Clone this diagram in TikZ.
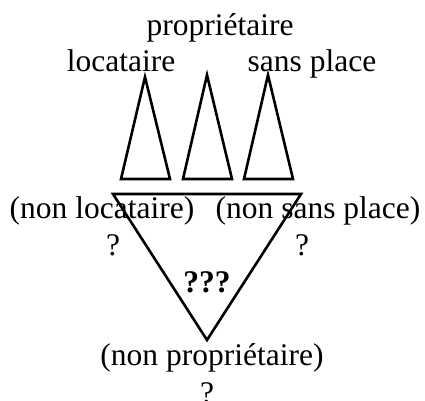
\documentclass[tikz,border=0pt]{standalone}
\usepackage{fontspec}
\setmainfont{Liberation Serif}
\begin{document}
\begin{tikzpicture}[x=1pt,y=-1pt,
  lbl/.style={anchor=base,inner sep=0pt,font=\fontsize{31.5}{36}\selectfont},
  tri/.style={draw,line width=2.6pt,line join=miter}]
\useasboundingbox (0,0) rectangle (425,400);
% small triangles
\draw[tri] (145,77) -- (170,179) -- (121,179) -- cycle;
\draw[tri] (207,75) -- (232,179) -- (183,179) -- cycle;
\draw[tri] (268,75) -- (293,179) -- (244,179) -- cycle;
% big triangle
\draw[tri] (113,194) -- (301,194) -- (207,340) -- cycle;
% labels
\node[lbl] (prop) at (220,35) {propriétaire};
\node[lbl] (loc) at (121,71) {locataire};
\node[lbl] (sp) at (312,71) {sans place};
\node[lbl] (nloc) at (102,218) {(non locataire)};
\node[lbl] (nsp) at (318,218) {(non sans place)};
\node[lbl] (q1) at (113,255) {?};
\node[lbl] (q2) at (302,255) {?};
\node[lbl,font=\fontsize{31.5}{36}\selectfont\bfseries] (qqq) at (207,292) {???};
\node[lbl] (nprop) at (212,365) {(non propriétaire)};
\node[lbl] (q3) at (207,403) {?};
\end{tikzpicture}
\end{document}
